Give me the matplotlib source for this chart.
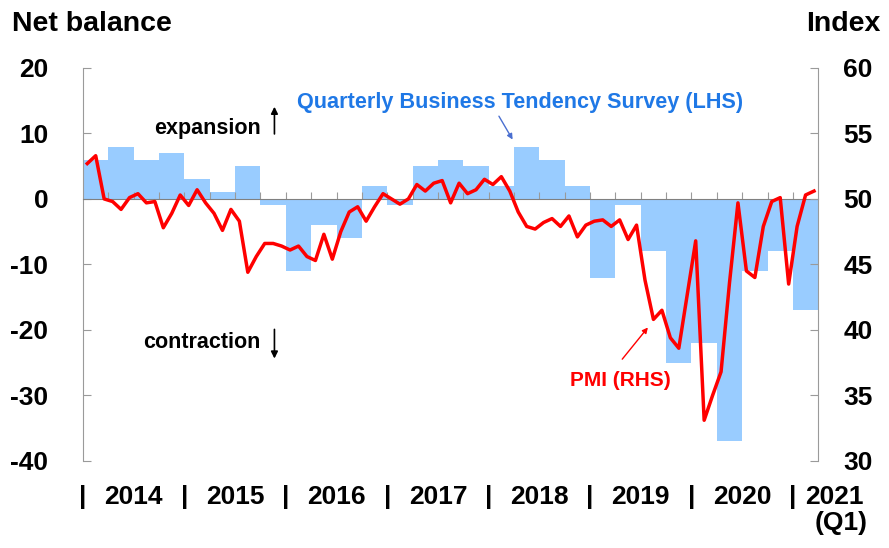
import matplotlib
matplotlib.use('Agg')
import matplotlib.pyplot as plt
import numpy as np

plt.rcParams['font.family'] = ['Liberation Sans', 'DejaVu Sans']
plt.rcParams['font.weight'] = 'bold'
plt.rcParams['axes.unicode_minus'] = False

# quarterly business tendency survey, net balance (LHS), 2014Q1 .. 2021Q1
qbts = [6, 8, 6, 7,  3, 1, 5, -1,  -11, -4, -6, 2,  -1, 5, 6, 5,
        2, 8, 6, 2,  -12, -1, -8, -25,  -22, -37, -11, -8,  -17]

# PMI monthly (RHS), Jan 2014 .. Mar 2021
pmi = [52.7, 53.3, 50.0, 49.8, 49.2, 50.1, 50.4, 49.7, 49.8, 47.8, 48.9, 50.3,
       49.5, 50.7, 49.7, 48.9, 47.6, 49.2, 48.3, 44.4, 45.6, 46.6, 46.6, 46.4,
       46.1, 46.4, 45.6, 45.3, 47.3, 45.4, 47.5, 49.0, 49.4, 48.3, 49.4, 50.4,
       50.0, 49.6, 50.0, 51.1, 50.6, 51.2, 51.4, 49.7, 51.2, 50.4, 50.7, 51.5,
       51.1, 51.7, 50.6, 49.0, 47.9, 47.7, 48.2, 48.5, 47.9, 48.7, 47.1, 48.0,
       48.3, 48.4, 47.9, 48.4, 46.9, 48.0, 43.8, 40.8, 41.5, 39.4, 38.6, 42.7,
       46.8, 33.1, 35.0, 36.8, 43.6, 49.7, 44.5, 44.0, 47.9, 49.8, 50.1, 43.5,
       47.9, 50.3, 50.6]

years = ['2014', '2015', '2016', '2017', '2018', '2019', '2020']

grey = '#9a9a9a'
fig = plt.figure(figsize=(8.89, 5.48), dpi=100, facecolor='white')
ax = fig.add_axes([0.0934, 0.159, 0.827, 0.717])

# x in quarter units
xq = np.arange(len(qbts)) + 0.5
ax.bar(xq, qbts, width=1.0, color='#99ccff', zorder=1)
ax.set_xlim(0, len(qbts))
ax.set_ylim(-40, 20)
ax.set_yticks(np.arange(-40, 21, 10))

ax.spines['top'].set_visible(False)
ax.spines['right'].set_visible(False)
ax.spines['left'].set_color(grey)
ax.spines['bottom'].set_position(('data', 0))
ax.spines['bottom'].set_color('#808080')
ax.set_xticks(np.arange(1, len(qbts)))
ax.tick_params(axis='x', direction='in', length=5, color=grey, labelbottom=False)
ax.tick_params(axis='y', direction='in', length=6, color=grey, pad=25, labelsize=19)

ax2 = ax.twinx()
xm = (np.arange(len(pmi)) + 0.5) / 3.0
ax2.plot(xm, pmi, color='#ff0000', linewidth=2.5, zorder=3)
ax2.set_ylim(30, 60)
ax2.set_yticks(np.arange(30, 61, 5))
for s in ['top', 'left', 'bottom']:
    ax2.spines[s].set_visible(False)
ax2.spines['right'].set_color(grey)
ax2.tick_params(axis='y', direction='in', length=6, color=grey, pad=18, labelsize=19)

# year labels under the chart
tr = ax.get_xaxis_transform()
for k in range(8):
    ax.text(4 * k, -0.092, '|', transform=tr, ha='center', va='center', fontsize=19)
for k, y in enumerate(years):
    ax.text(4 * k + 2, -0.092, y, transform=tr, ha='center', va='center', fontsize=19)
ax.text(28.5, -0.092, '2021', transform=tr, ha='left', va='center', fontsize=19)
ax.text(30.95, -0.158, '(Q1)', transform=tr, ha='right', va='center', fontsize=19)

fig.text(0.013, 0.956, 'Net balance', fontsize=20.5, va='center', ha='left')
fig.text(0.991, 0.956, 'Index', fontsize=20.5, va='center', ha='right')

# annotations
ax.text(7.0, 10.7, 'expansion', fontsize=15.5, ha='right', va='center')
ax.annotate('', xy=(7.55, 14.5), xytext=(7.55, 9.5),
            arrowprops=dict(arrowstyle='-|>', color='black', lw=1.2, mutation_scale=10))
ax.text(7.0, -22.0, 'contraction', fontsize=15.5, ha='right', va='center')
ax.annotate('', xy=(7.55, -24.8), xytext=(7.55, -19.5),
            arrowprops=dict(arrowstyle='-|>', color='black', lw=1.2, mutation_scale=10))

ax.text(8.45, 14.8, 'Quarterly Business Tendency Survey (LHS)', fontsize=15.6,
        color='#1f78e6', ha='left', va='center')
ax.annotate('', xy=(17.0, 8.7), xytext=(16.35, 13.0),
            arrowprops=dict(arrowstyle='-|>', color='#4a6fd0', lw=1.0, mutation_scale=8))

ax.text(21.2, -27.8, 'PMI (RHS)', fontsize=15, color='#ff0000', ha='center', va='center')
ax.annotate('', xy=(22.35, -19.3), xytext=(21.2, -24.8),
            arrowprops=dict(arrowstyle='-|>', color='#ff0000', lw=1.0, mutation_scale=8))

fig.savefig('out.png', dpi=100, facecolor='white')
